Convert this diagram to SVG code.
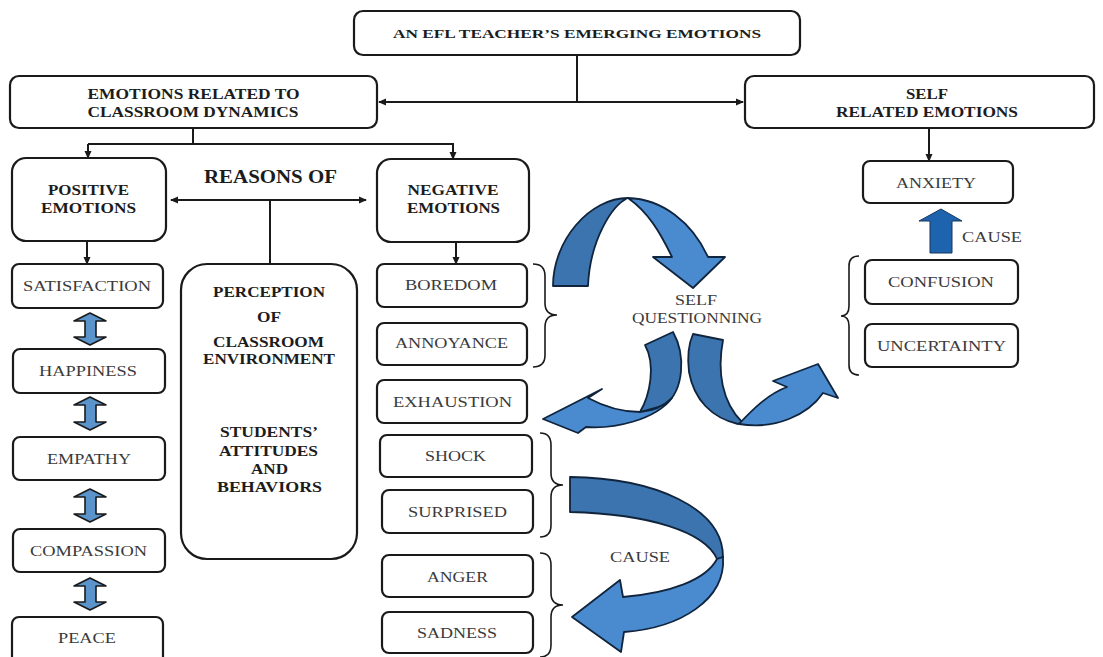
<svg xmlns="http://www.w3.org/2000/svg" width="1103" height="657" viewBox="0 0 1103 657">
  <defs>
    <style>
      .box { fill: #ffffff; stroke: #1a1a1a; stroke-width: 2.2; }
      .line { fill: none; stroke: #1a1a1a; stroke-width: 2; }
      .brace { fill: none; stroke: #1a1a1a; stroke-width: 1.6; }
      .hd { font-family: "Liberation Serif", "Times New Roman", serif; font-weight: bold; fill: #1c1c1c; text-anchor: middle; }
      .lb { font-family: "Liberation Serif", "Times New Roman", serif; fill: #3a3a3a; text-anchor: middle; font-size: 15.5px; }
      .dark { fill: #3b74ae; stroke: #10243d; stroke-width: 1.8; stroke-linejoin: round; }
      .light { fill: #4a8bd0; stroke: #10243d; stroke-width: 1.8; stroke-linejoin: round; }
      .dbl { fill: #5b94cb; stroke: #1a1a1a; stroke-width: 1.6; stroke-linejoin: round; }
    </style>
    <marker id="ah" viewBox="0 0 8 8" markerWidth="8" markerHeight="8" refX="7" refY="4" markerUnits="userSpaceOnUse" orient="auto-start-reverse">
      <path d="M0,0.5 L8,4 L0,7.5 Z" fill="#1a1a1a"/>
    </marker>
  </defs>

  <!-- connectors -->
  <g id="connectors">
    <path class="line" d="M577,55 V102"/>
    <path class="line" d="M379,102 H743" marker-start="url(#ah)" marker-end="url(#ah)"/>
    <path class="line" d="M193,128 V144"/>
    <path class="line" d="M88,144 H454"/>
    <path class="line" d="M88,144 V158" marker-end="url(#ah)"/>
    <path class="line" d="M453,144 V159" marker-end="url(#ah)"/>
    <path class="line" d="M171,200 H366" marker-start="url(#ah)" marker-end="url(#ah)"/>
    <path class="line" d="M270,200 V264"/>
    <path class="line" d="M87,241 V264" marker-end="url(#ah)"/>
    <path class="line" d="M456,242 V264" marker-end="url(#ah)"/>
    <path class="line" d="M929,128 V161" marker-end="url(#ah)"/>

    <!-- braces -->
    <path class="brace" d="M533,264 Q545,264 545,276 L545,303 Q545,315 557,315 Q545,315 545,327 L545,355 Q545,367 533,367"/>
    <path class="brace" d="M540,433 Q551,433 551,445 L551,473 Q551,485 563,485 Q551,485 551,497 L551,525 Q551,537 540,537"/>
    <path class="brace" d="M540,553 Q551,553 551,565 L551,593 Q551,605 563,605 Q551,605 551,617 L551,645 Q551,657 540,657"/>
    <path class="brace" d="M859,256 Q849,256 849,266 L849,306 Q849,316 841,316 Q849,316 849,326 L849,365 Q849,375 859,375"/>

    <!-- double arrows between positive emotions -->
    <path class="dbl" d="M90,313 L106,321 L96,321 L96,337 L106,337 L90,345 L74,337 L85,337 L85,321 L74,321 Z"/>
    <path class="dbl" d="M90,397 L106,405 L96,405 L96,422 L106,422 L90,430 L74,422 L85,422 L85,405 L74,405 Z"/>
    <path class="dbl" d="M90,489 L106,497 L96,497 L96,514 L106,514 L90,522 L74,514 L85,514 L85,497 L74,497 Z"/>
    <path class="dbl" d="M90,578 L106,586 L96,586 L96,602 L106,602 L90,610 L74,602 L85,602 L85,586 L74,586 Z"/>

    <!-- cause arrow up to anxiety -->
    <path d="M941,209 L962,221 L952,221 L952,253 L930,253 L930,221 L919,221 Z" fill="#1e63ae" stroke="#15365e" stroke-width="1"/>

    <!-- self questioning ribbon arrows -->
    <path class="dark" d="M553,286 C553,240 590,198 628,198 C612,205 590,240 588,286 Z"/>
    <path class="light" d="M628,198 C662,199 692,222 708,257 L725,257 L693,288 L653,257 L672,257 C660,232 648,212 628,198 Z"/>

    <path class="dark" d="M645,345 L673,332 C686,355 684,390 665,405 L640,412 C650,395 656,365 645,345 Z"/>
    <path class="light" d="M640,412 C622,412 603,406 588,398 L602,389 L543,419 L578,433 L586,427 C615,429 655,420 672,398 C662,408 652,411 640,412 Z"/>

    <path class="dark" d="M693,334 L723,340 C717,372 722,402 742,422 L738,424 C712,418 694,400 689,372 C687,356 689,343 693,334 Z"/>
    <path class="light" d="M739,424 C752,410 768,394 787,387 L773,381 L818,364 L838,398 L823,393 C808,415 775,430 739,424 Z"/>

    <!-- cause ribbon arrow -->
    <path class="dark" d="M570,477 C655,478 723,508 723,557 L717,559 C705,532 650,514 570,512 Z"/>
    <path class="light" d="M717,559 C706,580 670,593 623,597 L620,580 L572,617 L621,652 L624,632 C680,628 726,600 723,557 Z"/>
  </g>

  <!-- top level -->
  <g id="title">
    <rect class="box" x="354" y="11" width="446" height="44" rx="9"/>
    <text class="hd" x="577" y="37.5" font-size="13.5" textLength="368" lengthAdjust="spacingAndGlyphs">AN EFL TEACHER’S EMERGING EMOTIONS</text>
  </g>
  <g id="classroom">
    <rect class="box" x="10" y="76" width="367" height="52" rx="9"/>
    <text class="hd" x="193.5" y="98.5" font-size="14.5" textLength="212" lengthAdjust="spacingAndGlyphs">EMOTIONS RELATED TO</text>
    <text class="hd" x="193" y="116.5" font-size="14.5" textLength="211" lengthAdjust="spacingAndGlyphs">CLASSROOM DYNAMICS</text>
  </g>
  <g id="self">
    <rect class="box" x="745" y="76" width="349" height="52" rx="9"/>
    <text class="hd" x="927" y="98.5" font-size="14.5" textLength="42" lengthAdjust="spacingAndGlyphs">SELF</text>
    <text class="hd" x="927" y="116.5" font-size="14.5" textLength="182" lengthAdjust="spacingAndGlyphs">RELATED EMOTIONS</text>
  </g>

  <g id="positive">
    <rect class="box" x="12" y="158" width="154" height="83" rx="14"/>
    <text class="hd" x="88.5" y="195" font-size="15" textLength="81" lengthAdjust="spacingAndGlyphs">POSITIVE</text>
    <text class="hd" x="88.5" y="213" font-size="15" textLength="95" lengthAdjust="spacingAndGlyphs">EMOTIONS</text>
  </g>
  <g id="reasons">
    <text class="hd" x="270.5" y="183" font-size="19" textLength="133" lengthAdjust="spacingAndGlyphs">REASONS OF</text>
  </g>
  <g id="negative">
    <rect class="box" x="377" y="159" width="152" height="83" rx="14"/>
    <text class="hd" x="453" y="195" font-size="15" textLength="91" lengthAdjust="spacingAndGlyphs">NEGATIVE</text>
    <text class="hd" x="453.5" y="213" font-size="15" textLength="93" lengthAdjust="spacingAndGlyphs">EMOTIONS</text>
  </g>

  <!-- positive emotions -->
  <g id="satisfaction"><rect class="box" x="12" y="264" width="151" height="44" rx="7"/><text class="lb" x="87" y="291" textLength="128" lengthAdjust="spacingAndGlyphs">SATISFACTION</text></g>
  <g id="happiness"><rect class="box" x="13" y="349" width="152" height="44" rx="7"/><text class="lb" x="88" y="376" textLength="98" lengthAdjust="spacingAndGlyphs">HAPPINESS</text></g>
  <g id="empathy"><rect class="box" x="13" y="437" width="152" height="43" rx="7"/><text class="lb" x="89" y="464" textLength="84" lengthAdjust="spacingAndGlyphs">EMPATHY</text></g>
  <g id="compassion"><rect class="box" x="13" y="529" width="152" height="43" rx="7"/><text class="lb" x="88.5" y="556" textLength="117" lengthAdjust="spacingAndGlyphs">COMPASSION</text></g>
  <g id="peace"><rect class="box" x="12" y="617" width="151" height="48" rx="7"/><text class="lb" x="87" y="643" textLength="58" lengthAdjust="spacingAndGlyphs">PEACE</text></g>

  <!-- reasons box -->
  <g id="perception">
    <rect class="box" x="181" y="264" width="176" height="295" rx="26"/>
    <text class="hd" x="269" y="297" font-size="15" textLength="112" lengthAdjust="spacingAndGlyphs">PERCEPTION</text>
    <text class="hd" x="269" y="322" font-size="15" textLength="24" lengthAdjust="spacingAndGlyphs">OF</text>
    <text class="hd" x="268.5" y="347" font-size="15" textLength="111" lengthAdjust="spacingAndGlyphs">CLASSROOM</text>
    <text class="hd" x="269" y="364" font-size="15" textLength="132" lengthAdjust="spacingAndGlyphs">ENVIRONMENT</text>
    <text class="hd" x="269" y="437" font-size="15" textLength="98" lengthAdjust="spacingAndGlyphs">STUDENTS’</text>
    <text class="hd" x="268.5" y="456" font-size="15" textLength="99" lengthAdjust="spacingAndGlyphs">ATTITUDES</text>
    <text class="hd" x="269.5" y="474" font-size="15" textLength="37" lengthAdjust="spacingAndGlyphs">AND</text>
    <text class="hd" x="269.5" y="492" font-size="15" textLength="105" lengthAdjust="spacingAndGlyphs">BEHAVIORS</text>
  </g>

  <!-- negative emotions -->
  <g id="boredom"><rect class="box" x="377" y="264" width="150" height="43" rx="7"/><text class="lb" x="451" y="290" textLength="92" lengthAdjust="spacingAndGlyphs">BOREDOM</text></g>
  <g id="annoyance"><rect class="box" x="377" y="323" width="150" height="42" rx="7"/><text class="lb" x="451.5" y="348" textLength="113" lengthAdjust="spacingAndGlyphs">ANNOYANCE</text></g>
  <g id="exhaustion"><rect class="box" x="377" y="380" width="150" height="43" rx="7"/><text class="lb" x="452.5" y="407" textLength="119" lengthAdjust="spacingAndGlyphs">EXHAUSTION</text></g>
  <g id="shock"><rect class="box" x="380" y="435" width="152" height="42" rx="7"/><text class="lb" x="455.5" y="461" textLength="61" lengthAdjust="spacingAndGlyphs">SHOCK</text></g>
  <g id="surprised"><rect class="box" x="382" y="490" width="151" height="43" rx="7"/><text class="lb" x="457.5" y="517" textLength="99" lengthAdjust="spacingAndGlyphs">SURPRISED</text></g>
  <g id="anger"><rect class="box" x="382" y="555" width="151" height="42" rx="7"/><text class="lb" x="457.5" y="582" textLength="61" lengthAdjust="spacingAndGlyphs">ANGER</text></g>
  <g id="sadness"><rect class="box" x="382" y="612" width="151" height="41" rx="7"/><text class="lb" x="457" y="638" textLength="80" lengthAdjust="spacingAndGlyphs">SADNESS</text></g>

  <!-- free labels -->
  <g id="self-questioning">
    <text class="lb" x="696" y="305" font-size="15" textLength="42" lengthAdjust="spacingAndGlyphs">SELF</text>
    <text class="lb" x="697" y="323" font-size="15" textLength="130" lengthAdjust="spacingAndGlyphs">QUESTIONNING</text>
  </g>
  <g id="cause-lower"><text class="lb" x="640" y="562" textLength="60" lengthAdjust="spacingAndGlyphs">CAUSE</text></g>
  <g id="cause-upper"><text class="lb" x="992" y="242" textLength="60" lengthAdjust="spacingAndGlyphs">CAUSE</text></g>

  <!-- self related emotions -->
  <g id="anxiety"><rect class="box" x="863" y="161" width="150" height="42" rx="7"/><text class="lb" x="936" y="188" textLength="80" lengthAdjust="spacingAndGlyphs">ANXIETY</text></g>
  <g id="confusion"><rect class="box" x="865" y="260" width="153" height="44" rx="7"/><text class="lb" x="941" y="287" textLength="106" lengthAdjust="spacingAndGlyphs">CONFUSION</text></g>
  <g id="uncertainty"><rect class="box" x="865" y="324" width="153" height="43" rx="7"/><text class="lb" x="941.5" y="351" textLength="129" lengthAdjust="spacingAndGlyphs">UNCERTAINTY</text></g>
</svg>
